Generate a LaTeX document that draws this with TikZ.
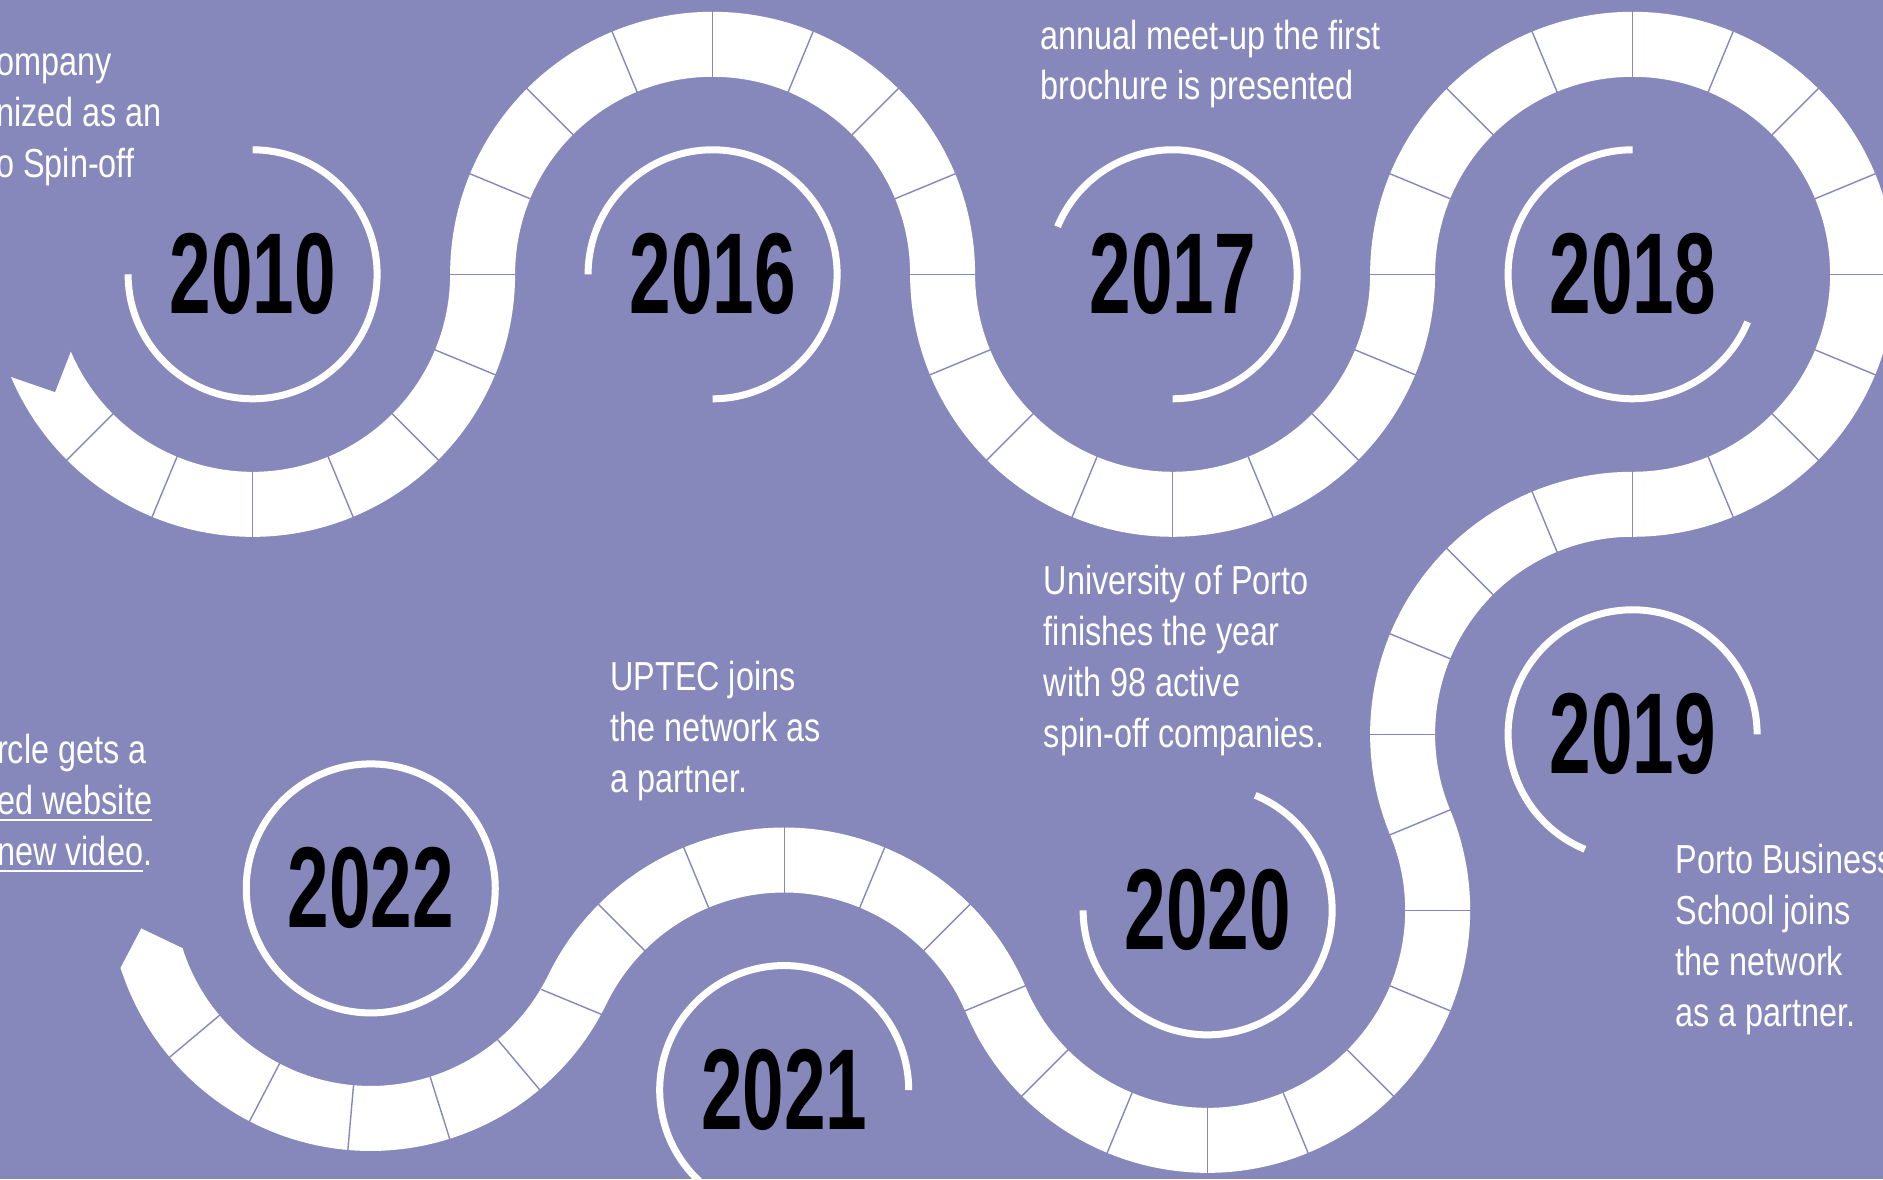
\documentclass[tikz,border=0pt]{standalone}
\usepackage{fontspec}
\usetikzlibrary{calc}
\newfontfamily\yearfont[FakeStretch=0.65]{Liberation Sans}
\newfontfamily\notefont[FakeStretch=0.8]{Liberation Sans}
\definecolor{bgpurple}{RGB}{134,135,187}
\newcommand{\linkline}[1]{\setbox0\hbox{#1}\rlap{\rule[-6pt]{\wd0}{1.8pt}}\box0}
\begin{document}
\begin{tikzpicture}[x=1pt,y=1pt,
  band/.style={line width=65pt,white},
  ring/.style={line width=7pt,white},
  tick/.style={line width=1.4pt,bgpurple},
  year/.style={font=\yearfont\bfseries\fontsize{115}{115}\selectfont,text=black,inner sep=0pt},
  note/.style={font=\notefont\fontsize{40.5}{51}\selectfont,text=white,inner sep=0pt,align=left,anchor=base west}]
\fill[bgpurple] (0,0) rectangle (1883,1179);
\useasboundingbox (0,0) rectangle (1883,1179);
\clip (0,0) rectangle (1883,1179);
\coordinate (c10) at (252.6,904.7);
\coordinate (c16) at (712.6,904.7);
\coordinate (c17) at (1172.6,904.7);
\coordinate (c18) at (1632.6,904.7);
\coordinate (c19) at (1632.6,444.7);
\path (c19) ++(202.5:460pt) coordinate (c20);
\path (c20) ++(203:460pt) coordinate (c21);
\path (c21) ++(154:460pt) coordinate (c22);
\draw[band] ($(c10)+(203:230pt)$) arc[start angle=203,end angle=360,radius=230pt]
  arc[start angle=180,end angle=0,radius=230pt]
  arc[start angle=180,end angle=360,radius=230pt]
  arc[start angle=180,end angle=-90,radius=230pt]
  arc[start angle=90,end angle=202.5,radius=230pt]
  arc[start angle=22.5,end angle=-157,radius=230pt]
  arc[start angle=23,end angle=154,radius=230pt]
  arc[start angle=-26,end angle=-162.4,radius=230pt];
\fill[bgpurple] ($(c10)+(202:275pt)$) -- ($(c10)+(203:262.5pt)$) -- ($(c10)+(210.8:230pt)$) -- ($(c10)+(203:197.5pt)$) -- ($(c10)+(202:185pt)$) -- cycle;
\fill[white] ($(c22)+(198.5:262.5pt)$) -- ($(c22)+(197.6:262.5pt)$) -- ($(c22)+(189.9:233pt)$) -- ($(c22)+(197.6:197.5pt)$) -- ($(c22)+(198.5:197.5pt)$) -- cycle;
\foreach \a in {225,247.5,...,360}\draw[tick] ($(c10)+(\a:197pt)$) -- ($(c10)+(\a:263pt)$);
\foreach \a in {0,22.5,...,157.5}\draw[tick] ($(c16)+(\a:197pt)$) -- ($(c16)+(\a:263pt)$);
\foreach \a in {180,202.5,...,360}\draw[tick] ($(c17)+(\a:197pt)$) -- ($(c17)+(\a:263pt)$);
\foreach \a in {-90,-67.5,...,157.5}\draw[tick] ($(c18)+(\a:197pt)$) -- ($(c18)+(\a:263pt)$);
\foreach \a in {112.5,135,...,202.5}\draw[tick] ($(c19)+(\a:197pt)$) -- ($(c19)+(\a:263pt)$);
\foreach \a in {-157.5,-135,...,0}\draw[tick] ($(c20)+(\a:197pt)$) -- ($(c20)+(\a:263pt)$);
\foreach \a in {45,67.5,...,157.5}\draw[tick] ($(c21)+(\a:197pt)$) -- ($(c21)+(\a:263pt)$);
\foreach \a in {220,242.5,...,310}\draw[tick] ($(c22)+(\a:197pt)$) -- ($(c22)+(\a:263pt)$);
\draw[ring] ($(c10)+(90:124.5pt)$) arc[start angle=90,end angle=-180,radius=124.5pt];
\draw[ring] ($(c16)+(180:124.5pt)$) arc[start angle=180,end angle=-90,radius=124.5pt];
\draw[ring] ($(c17)+(157.5:124.5pt)$) arc[start angle=157.5,end angle=-90,radius=124.5pt];
\draw[ring] ($(c18)+(90:124.5pt)$) arc[start angle=90,end angle=337.5,radius=124.5pt];
\draw[ring] ($(c19)+(0:124.5pt)$) arc[start angle=0,end angle=247.5,radius=124.5pt];
\draw[ring] ($(c20)+(67.5:124.5pt)$) arc[start angle=67.5,end angle=-180,radius=124.5pt];
\draw[ring] ($(c21)+(0:124.5pt)$) arc[start angle=0,end angle=270,radius=124.5pt];
\draw[ring] (c22) circle[radius=124.5pt];
\node[year] (y10) at (c10) {2010};
\node[year] (y16) at (c16) {2016};
\node[year] (y17) at (c17) {2017};
\node[year] (y18) at (c18) {2018};
\node[year] (y19) at (c19) {2019};
\node[year] (y20) at (c20) {2020};
\node[year] (y21) at (c21) {2021};
\node[year] (y22) at (c22) {2022};
\node[note] (n10) at (-4,1001) {ompany\\nized as an\\o Spin-off};
\node[note,font=\notefont\fontsize{40.5}{50}\selectfont] (n17) at (1040,1079) {annual meet-up the first\\brochure is presented};
\node[note] (n20) at (1043.6,431.2) {University of Porto\\finishes the year\\with 98 active\\spin-off companies.};
\node[note] (n21) at (610,386.8) {UPTEC joins\\the network as\\a partner.};
\node[note] (n19) at (1675.5,153) {Porto Business\\School joins\\the network\\as a partner.};
\node[note] (n22) at (-3,313) {rcle gets a\\\linkline{ed website}\\\linkline{new video}.};
\end{tikzpicture}
\end{document}
